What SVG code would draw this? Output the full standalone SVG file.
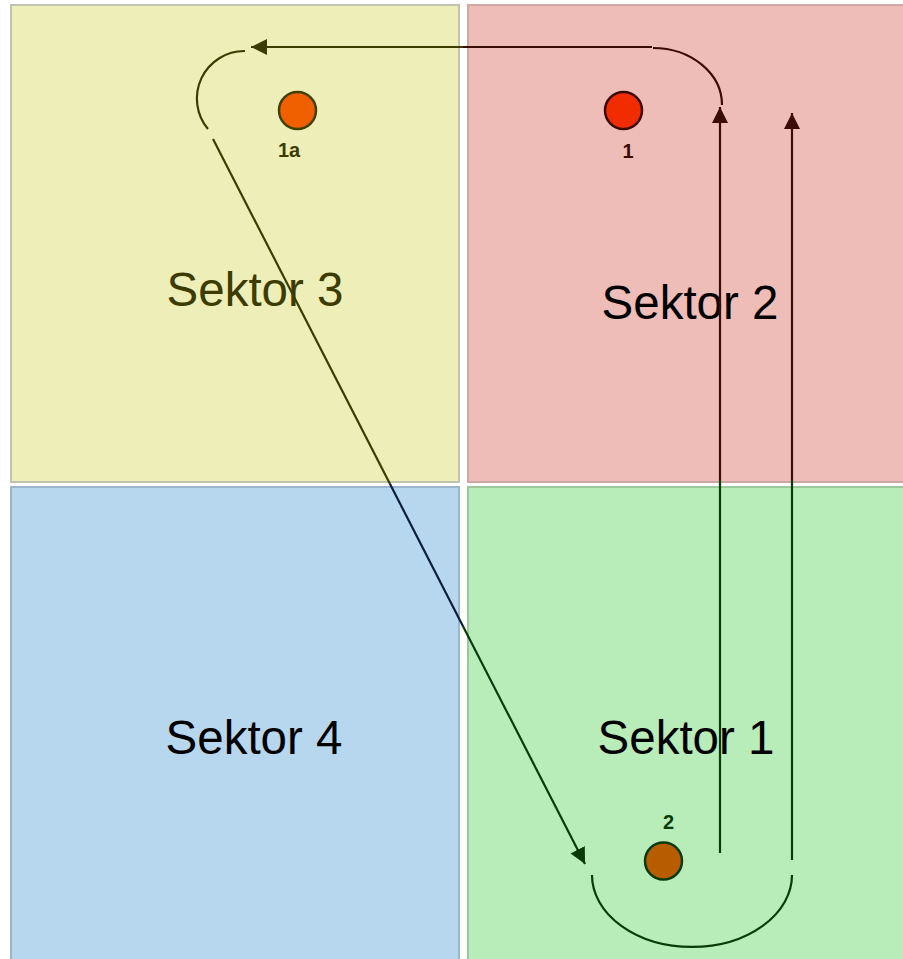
<svg xmlns="http://www.w3.org/2000/svg" width="903" height="959" viewBox="0 0 903 959">
<style>
.sek{font-family:"Liberation Sans",Arial,sans-serif;font-size:47.5px;text-anchor:middle}
.lbl{font-family:"Liberation Sans",Arial,sans-serif;font-size:20px;font-weight:bold;text-anchor:middle}
.con{fill:none;stroke-width:2.2}
.node{stroke-width:2.5}
</style>
<defs>
<marker id="hOlive" markerUnits="userSpaceOnUse" markerWidth="18" markerHeight="18" refX="16" refY="8" orient="auto"><path d="M0,0 L16,8 L0,16 z" fill="#3c3c00"/></marker>
<marker id="hMaroon" markerUnits="userSpaceOnUse" markerWidth="18" markerHeight="18" refX="16" refY="8" orient="auto"><path d="M0,0 L16,8 L0,16 z" fill="#3a0c06"/></marker>
<marker id="hGreen" markerUnits="userSpaceOnUse" markerWidth="18" markerHeight="18" refX="16" refY="8" orient="auto"><path d="M0,0 L16,8 L0,16 z" fill="#0a3a0a"/></marker>
<linearGradient id="gTop" gradientUnits="userSpaceOnUse" x1="252" y1="47" x2="652" y2="47">
<stop offset="0" stop-color="#3c3c00"/><stop offset="0.5275" stop-color="#3c3c00"/><stop offset="0.5275" stop-color="#3a0c06"/><stop offset="1" stop-color="#3a0c06"/>
</linearGradient>
<linearGradient id="gDiag" gradientUnits="userSpaceOnUse" x1="213" y1="139" x2="585" y2="864">
<stop offset="0" stop-color="#3c3c00"/><stop offset="0.476" stop-color="#3c3c00"/><stop offset="0.476" stop-color="#0a1e3c"/><stop offset="0.672" stop-color="#0a1e3c"/><stop offset="0.672" stop-color="#0a3a0a"/><stop offset="1" stop-color="#0a3a0a"/>
</linearGradient>
<linearGradient id="gVert" gradientUnits="userSpaceOnUse" x1="0" y1="100" x2="0" y2="870">
<stop offset="0" stop-color="#3a0c06"/><stop offset="0.4935" stop-color="#3a0c06"/><stop offset="0.4935" stop-color="#0a3a0a"/><stop offset="1" stop-color="#0a3a0a"/>
</linearGradient>
</defs>
<rect width="903" height="959" fill="#ffffff"/>
<g id="sektor3">
<rect x="11" y="5" width="448" height="477" fill="#eeeeb8" stroke="#c2c2b0" stroke-width="2"/>
<text class="sek" x="255" y="306" fill="#3c3c00">Sektor 3</text>
</g>
<g id="sektor2">
<rect x="468" y="5" width="442" height="477" fill="#efbdb8" stroke="#cfa8a4" stroke-width="2"/>
<text class="sek" x="690" y="319" fill="#000000">Sektor 2</text>
</g>
<g id="sektor4">
<rect x="11" y="487" width="448" height="480" fill="#b6d7ee" stroke="#9ab6cc" stroke-width="2"/>
<text class="sek" x="254" y="754" fill="#000000">Sektor 4</text>
</g>
<g id="sektor1">
<rect x="468" y="487" width="442" height="480" fill="#b8ecb8" stroke="#9cc89c" stroke-width="2"/>
<text class="sek" x="686" y="754" fill="#000000">Sektor 1</text>
</g>
<g id="connectors">
<path class="con" d="M652,47 L251,47" stroke="url(#gTop)" marker-end="url(#hOlive)"/>
<path class="con" d="M653,48 A69,57 0 0 1 722,105" stroke="#3a0c06"/>
<path class="con" d="M245,51 A47.5,47.5 0 0 0 208,129" stroke="#3c3c00"/>
<path class="con" d="M213,139 L585,864" stroke="url(#gDiag)" marker-end="url(#hGreen)"/>
<path class="con" d="M720,853 L720,107" stroke="url(#gVert)" marker-end="url(#hMaroon)"/>
<path class="con" d="M792,860 L792,113" stroke="url(#gVert)" marker-end="url(#hMaroon)"/>
<path class="con" d="M592,875 A100,72 0 0 0 792,875" stroke="#0a3a0a"/>
</g>
<g id="node1a">
<circle class="node" cx="297.5" cy="110.5" r="18.5" fill="#f06000" stroke="#404000"/>
<text class="lbl" x="289" y="157" fill="#3c3c00">1a</text>
</g>
<g id="node1">
<circle class="node" cx="623.5" cy="110.5" r="18.5" fill="#f02c00" stroke="#3a0a05"/>
<text class="lbl" x="628" y="158" fill="#3a0c06">1</text>
</g>
<g id="node2">
<circle class="node" cx="663.5" cy="861" r="18.5" fill="#b85c00" stroke="#0a3a0a"/>
<text class="lbl" x="668.5" y="829" fill="#0a3a0a">2</text>
</g>
</svg>
